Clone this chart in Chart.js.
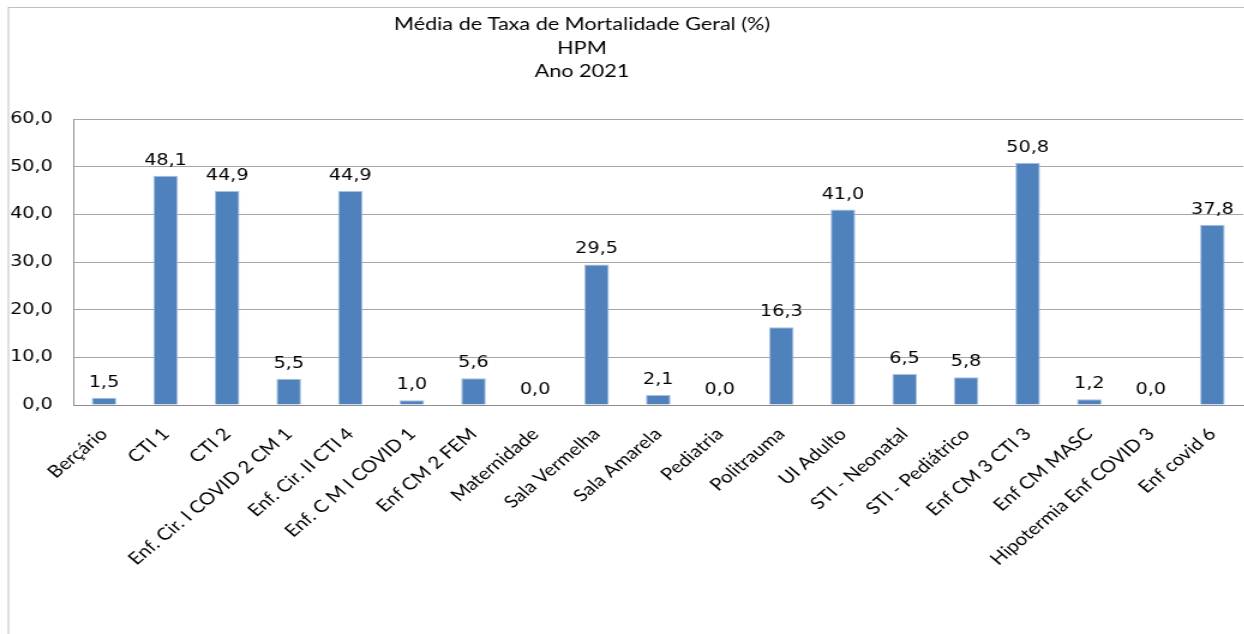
<!DOCTYPE html>
<html>
<head>
<meta charset="utf-8">
<script src="https://cdn.jsdelivr.net/npm/chart.js@4/dist/chart.umd.min.js"></script>
<style>
  html, body { margin: 0; padding: 0; background: #fff; overflow: hidden; }
  /* the original picture is stretched sideways, so draw narrow and stretch */
  #wrap { width: 1037px; height: 634px; position: relative; transform: scaleX(1.2); transform-origin: 0 0; }
</style>
</head>
<body>
<div id="wrap"><canvas id="chart"></canvas></div>
<script>
const categories = ["Berçário", "CTI 1", "CTI 2", "Enf. Cir. I COVID 2 CM 1", "Enf. Cir. II CTI 4",
    "Enf. C M I COVID 1", "Enf CM 2 FEM", "Maternidade", "Sala Vermelha", "Sala Amarela", "Pediatria",
    "Politrauma", "UI Adulto", "STI - Neonatal", "STI - Pediátrico", "Enf CM 3 CTI 3", "Enf CM MASC",
    "Hipotermia Enf COVID 3", "Enf covid 6"]
const values = [1.5, 48.1, 44.9, 5.5, 44.9, 1.0, 5.6, 0.0, 29.5, 2.1, 0.0, 16.3, 41.0, 6.5, 5.8, 50.8, 1.2, 0.0, 37.8]
const titleLines = ["Média de Taxa de Mortalidade Geral (%)", "HPM", "Ano 2021"]
const yMax = 60
const yStep = 10

const fmt = (v) => v.toFixed(1).replace(".", ",")

// outer frame + title (title sits left of centre in the original)
const framePlugin = {
    id: "frame",
    beforeDraw(chart) {
        const ctx = chart.ctx
        ctx.save()
        ctx.strokeStyle = "#bfbfbf"
        ctx.lineWidth = 1
        ctx.strokeRect(7, 7.5, 1400, 800)
        ctx.fillStyle = "#000"
        ctx.font = "18px Lato, sans-serif"
        ctx.textAlign = "center"
        ctx.textBaseline = "alphabetic"
        titleLines.forEach((t, i) => ctx.fillText(t, 485, 30 + i * 23.5))
        ctx.restore()
    }
}

// value labels above each bar
const valueLabels = {
    id: "valueLabels",
    afterDatasetsDraw(chart) {
        const ctx = chart.ctx
        const meta = chart.getDatasetMeta(0)
        ctx.save()
        ctx.fillStyle = "#000"
        ctx.font = "16px 'DejaVu Sans', sans-serif"
        ctx.textAlign = "center"
        ctx.textBaseline = "alphabetic"
        meta.data.forEach((bar, i) => {
            ctx.fillText(fmt(values[i]), bar.x, bar.y - 11)
        })
        ctx.restore()
    }
}

new Chart(document.querySelector("#chart"), {
    type: "bar",
    plugins: [framePlugin, valueLabels],
    data: {
        labels: categories,
        datasets: [{
            data: values,
            backgroundColor: "#4f81bd",
            borderColor: "#a9c0de",
            borderWidth: 1,
            categoryPercentage: 1,
            barPercentage: 0.4,
        }]
    },
    options: {
        responsive: true,
        maintainAspectRatio: false,
        animation: false,
        layout: {padding: {top: 119, right: 1, left: 0, bottom: 0}},
        plugins: {legend: {display: false}, tooltip: {enabled: false}, title: {display: false}},
        scales: {
            x: {
                grid: {display: false, drawTicks: false},
                border: {display: true, color: "#8c8c8c"},
                ticks: {
                    minRotation: 45, maxRotation: 45, autoSkip: false, padding: 19,
                    color: "#000",
                    font: {family: "Lato, sans-serif", size: 17},
                },
                afterFit(scale) {
                    scale.height = 229
                    scale.paddingLeft = 0
                    scale.paddingRight = 0
                },
            },
            y: {
                min: 0, max: yMax,
                grid: {color: "#a6a6a6", drawTicks: false},
                border: {display: true, color: "#8c8c8c"},
                ticks: {
                    stepSize: yStep, padding: 17, color: "#000",
                    font: {family: "'DejaVu Sans', sans-serif", size: 16},
                    callback: (v) => fmt(v),
                },
                afterFit(scale) { scale.width = 61 },
            },
        },
    },
})
</script>
</body>
</html>
